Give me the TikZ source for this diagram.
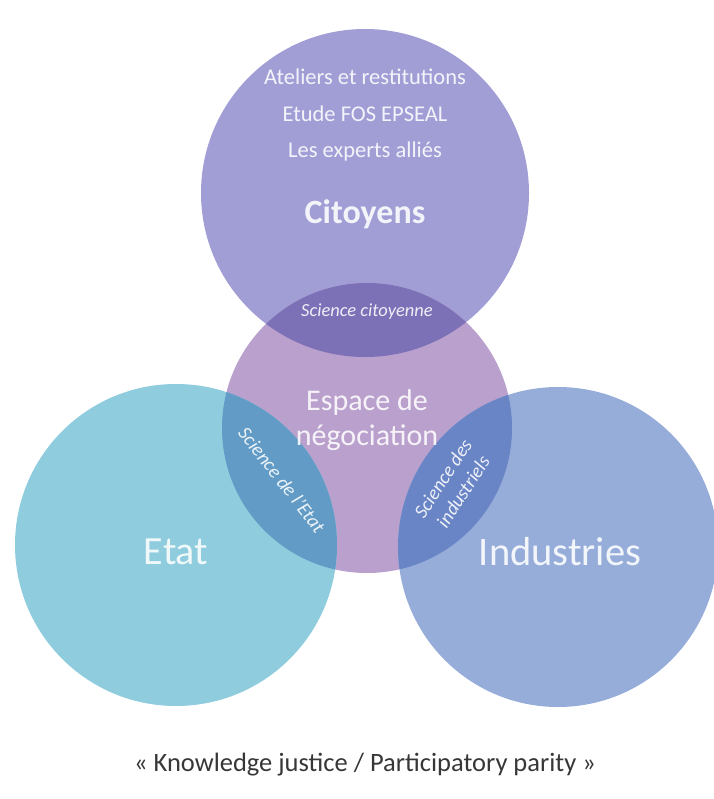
\documentclass[tikz,border=0pt]{standalone}
\usepackage{fontspec}
\setmainfont{Carlito}
\definecolor{citcol}{RGB}{161,158,214}
\definecolor{negcol}{RGB}{186,160,205}
\definecolor{etatcol}{RGB}{142,204,222}
\definecolor{indcol}{RGB}{150,173,218}
\definecolor{citlens}{RGB}{124,112,182}
\definecolor{etatlens}{RGB}{98,156,198}
\definecolor{indlens}{RGB}{106,133,198}
\definecolor{quotecol}{RGB}{55,55,55}
\begin{document}
\begin{tikzpicture}[x=1pt,y=-1pt,
  lbl/.style={text=white,text opacity=0.88,inner sep=0pt,align=center}]
  \useasboundingbox (0,0) rectangle (713,799);
  \coordinate (cit)  at (365,193);
  \coordinate (neg)  at (367,428);
  \coordinate (etat) at (176,545);
  \coordinate (ind)  at (558,547);
  % circles
  \fill[citcol]  (cit)  circle (164pt);
  \fill[negcol]  (neg)  circle (145pt);
  \fill[etatcol] (etat) circle (161pt);
  \fill[indcol]  (ind)  circle (160pt);
  % overlaps
  \begin{scope}
    \clip (cit) circle (164pt);
    \fill[citlens] (neg) circle (145pt);
  \end{scope}
  \begin{scope}
    \clip (etat) circle (161pt);
    \fill[etatlens] (neg) circle (145pt);
  \end{scope}
  \begin{scope}
    \clip (ind) circle (160pt);
    \fill[indlens] (neg) circle (145pt);
  \end{scope}
  % texts
  \node[lbl,font=\fontsize{22.5}{26}\selectfont] (atel) at (365,77) {Ateliers et restitutions};
  \node[lbl,font=\fontsize{22.5}{26}\selectfont] (fos) at (365,114) {Etude FOS EPSEAL};
  \node[lbl,font=\fontsize{22.5}{26}\selectfont] (experts) at (365,152) {Les experts alliés};
  \node[lbl,font=\bfseries\fontsize{34}{38}\selectfont] (citoyens) at (365,214) {Citoyens};
  \node[lbl,font=\itshape\fontsize{18.5}{21}\selectfont] (scicit) at (367,312) {Science citoyenne};
  \node[lbl,font=\fontsize{30}{35}\selectfont] (espace) at (367,420) {Espace de\\négociation};
  \node[lbl,font=\itshape\fontsize{19.5}{22}\selectfont,rotate=-52] (scietat) at (282,480) {Science de l'Etat};
  \node[lbl,font=\itshape\fontsize{19.5}{24}\selectfont,rotate=57] (sciind) at (453,485) {Science des\\industriels};
  \node[lbl,font=\fontsize{40}{46}\selectfont] (etatlbl) at (176,552) {Etat};
  \node[lbl,font=\fontsize{40.5}{46}\selectfont] (indlbl) at (560,552) {Industries};
  \node[text=quotecol,inner sep=0pt,font=\fontsize{26.5}{30}\selectfont] (quote) at (365,765)
    {« Knowledge justice / Participatory parity »};
\end{tikzpicture}
\end{document}
